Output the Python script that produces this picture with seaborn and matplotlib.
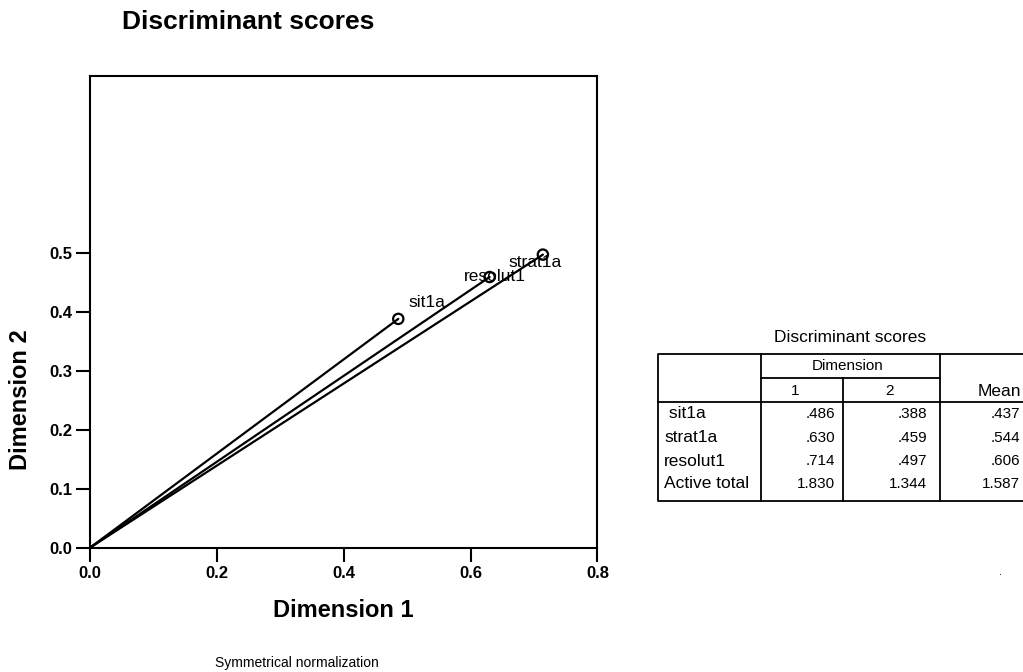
import seaborn as sns
import matplotlib.pyplot as plt
import pandas as pd

# discriminant scores as plotted
point_labels = ['sit1a', 'resolut1', 'strat1a']
dim1 = [0.486, 0.630, 0.714]
dim2 = [0.388, 0.459, 0.497]

# the table on the right
table_rows = [' sit1a', 'strat1a', 'resolut1', 'Active total']
table_dim1 = ['.486', '.630', '.714', '1.830']
table_dim2 = ['.388', '.459', '.497', '1.344']
table_mean = ['.437', '.544', '.606', '1.587']

x_ticks = [0.0, 0.2, 0.4, 0.6, 0.8]
y_ticks = [0.0, 0.1, 0.2, 0.3, 0.4, 0.5]

sns.set_style('white')
plt.rcParams['font.family'] = ['Liberation Sans', 'DejaVu Sans']
plt.rcParams.update({'text.color': 'black', 'axes.labelcolor': 'black',
                     'xtick.color': 'black', 'ytick.color': 'black'})

df = pd.DataFrame({'label': point_labels, 'dim1': dim1, 'dim2': dim2})

fig = plt.figure(figsize=(10.23, 6.72), dpi=100)
ax = fig.add_axes([0.088, 0.185, 0.496, 0.702])

# vectors from the origin
for _, row in df.iterrows():
    ax.plot([0, row['dim1']], [0, row['dim2']], color='black', lw=1.6, zorder=2)

sns.scatterplot(data=df, x='dim1', y='dim2', ax=ax, s=55, marker='o',
                facecolor='none', edgecolor='black', linewidth=1.6, zorder=3)

# label offsets in points
offsets = {'sit1a': (7, 11.5, 'left'), 'resolut1': (4, 0.5, 'center'), 'strat1a': (-24.5, -5.5, 'left')}
for _, row in df.iterrows():
    dx, dy, ha = offsets[row['label']]
    ax.annotate(row['label'], (row['dim1'], row['dim2']), xytext=(dx, dy),
                textcoords='offset points', ha=ha, va='center', fontsize=12.5)

ax.set_xlim(0, 0.8)
ax.set_ylim(0, 0.8)
ax.set_xticks(x_ticks)
ax.set_yticks(y_ticks)
ax.set_xticklabels([f'{t:.1f}' for t in x_ticks], fontsize=12, fontweight='bold')
ax.set_yticklabels([f'{t:.1f}' for t in y_ticks], fontsize=12, fontweight='bold')
ax.tick_params(axis='both', direction='out', length=10, width=1.5, color='black',
               bottom=True, left=True, pad=3)
for sp in ax.spines.values():
    sp.set_color('black')
    sp.set_linewidth(1.5)
ax.set_xlabel('Dimension 1', fontsize=17, fontweight='bold', va='top')
ax.xaxis.set_label_coords(0.5, -0.108)
ax.set_ylabel('Dimension 2', fontsize=17, fontweight='bold')
ax.yaxis.set_label_coords(-0.114, 0.314)

fig.text(0.119, 0.968, 'Discriminant scores', fontsize=19, fontweight='bold', va='center')
fig.text(215 / 1023, 1 - 663 / 672, 'Symmetrical normalization', fontsize=10, ha='left', va='center')

# table drawn in pixel coordinates of the figure
tb = fig.add_axes([0, 0, 1, 1])
tb.set_xlim(0, 1023)
tb.set_ylim(672, 0)
tb.axis('off')

left, c1, c2, c3, right = 658, 761, 843, 940, 1025
top, h1, h2, bottom = 354, 378, 402, 501
lw = 1.3
tb.plot([right, left, left, right], [top, top, bottom, bottom], color='black', lw=lw)
tb.plot([c1, c1], [top, bottom], color='black', lw=lw)
tb.plot([c3, c3], [top, bottom], color='black', lw=lw)
tb.plot([c2, c2], [h1, bottom], color='black', lw=lw)
tb.plot([c1, c3], [h1, h1], color='black', lw=lw)
tb.plot([left, right], [h2, h2], color='black', lw=lw)

tb.text(850, 338, 'Discriminant scores', fontsize=12.5, ha='center', va='center')
tb.text(848, 366, 'Dimension', fontsize=11, ha='center', va='center')
tb.text(795, 391, '1', fontsize=11, ha='center', va='center')
tb.text(889, 391, '2', fontsize=11, ha='center', va='center')
tb.text(999, 391, 'Mean', fontsize=12.5, ha='center', va='center')

row_y = [414, 438, 461, 484]
for i, y in enumerate(row_y):
    tb.text(664, y, table_rows[i], fontsize=12.5, ha='left', va='center')
    tb.text(835, y, table_dim1[i], fontsize=11, ha='right', va='center')
    tb.text(927, y, table_dim2[i], fontsize=11, ha='right', va='center')
    tb.text(1020, y, table_mean[i], fontsize=11, ha='right', va='center')

tb.text(1000, 572, '.', fontsize=8, ha='center', va='center')

fig.savefig('out.png', dpi=100)
